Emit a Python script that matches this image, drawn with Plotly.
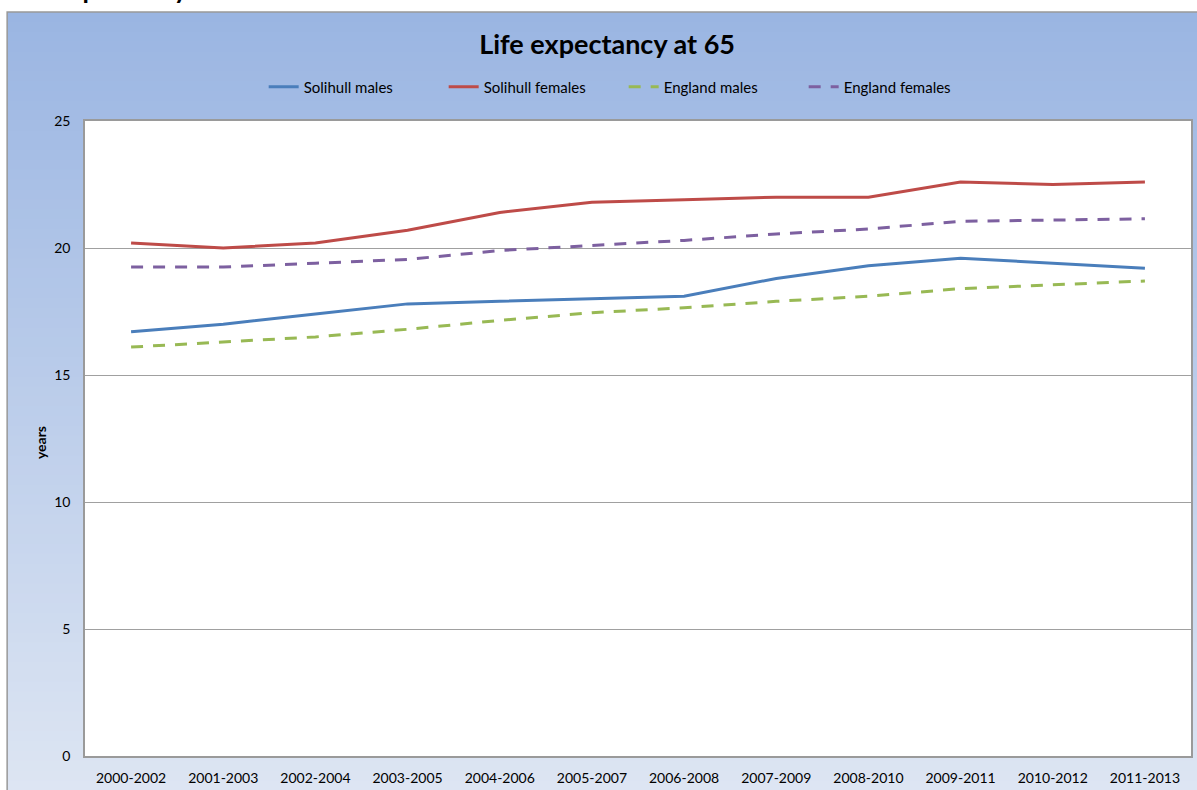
import plotly.graph_objects as go

periods = ["2000-2002", "2001-2003", "2002-2004", "2003-2005", "2004-2006", "2005-2007",
           "2006-2008", "2007-2009", "2008-2010", "2009-2011", "2010-2012", "2011-2013"]
solihull_males = [16.7, 17.0, 17.4, 17.8, 17.9, 18.0, 18.1, 18.8, 19.3, 19.6, 19.4, 19.2]
solihull_females = [20.2, 20.0, 20.2, 20.7, 21.4, 21.8, 21.9, 22.0, 22.0, 22.6, 22.5, 22.6]
england_males = [16.1, 16.3, 16.5, 16.8, 17.15, 17.45, 17.65, 17.9, 18.1, 18.4, 18.55, 18.7]
england_females = [19.25, 19.25, 19.4, 19.55, 19.9, 20.1, 20.3, 20.55, 20.75, 21.05, 21.1, 21.15]
y_ticks = [0, 5, 10, 15, 20, 25]

FONT = "Lato"
W, H = 1197, 790
ML, MR, MT, MB = 85, 4, 121, 34
PW, PH = W - ML - MR, H - MT - MB

def px_x(p):
    return (p - ML) / PW

def px_y(p):
    return (H - MB - p) / PH

fig = go.Figure()
series = [
    ("Solihull males", solihull_males, "#4A7EBB", "solid"),
    ("Solihull females", solihull_females, "#BE4B48", "solid"),
    ("England males", england_males, "#98B954", "12px,10px"),
    ("England females", england_females, "#7D60A0", "12px,10px"),
]
for name, vals, col, dash in series:
    fig.add_trace(go.Scatter(x=periods, y=vals, name=name, mode="lines",
                             line=dict(color=col, width=3, dash=dash)))

# background gradient (stripes)
shapes = []
top_c = (154, 181, 226)
bot_c = (222, 230, 243)
y_top, y_bot = px_y(12), px_y(H + 10)
n = 80
step = (y_top - y_bot) / n
for i in range(n):
    t = (i + 0.5) / n
    c = tuple(round(top_c[k] + (bot_c[k] - top_c[k]) * t) for k in range(3))
    y1 = y_top - step * i
    y0 = y1 - step * 1.6
    shapes.append(dict(type="rect", xref="paper", yref="paper", layer="below",
                       x0=px_x(7), x1=px_x(W + 10),
                       y0=max(y0, y_bot), y1=y1,
                       fillcolor="rgb(%d,%d,%d)" % c, line=dict(width=0)))
shapes.append(dict(type="rect", xref="paper", yref="paper", layer="below",
                   x0=0, x1=1, y0=0, y1=1, fillcolor="white", line=dict(width=0)))
shapes.append(dict(type="rect", xref="paper", yref="paper", layer="below",
                   x0=px_x(7), x1=px_x(W + 10), y0=px_y(H + 10), y1=px_y(12),
                   fillcolor="rgba(0,0,0,0)", line=dict(color="#999999", width=1.5)))

fig.update_layout(
    width=W, height=H,
    margin=dict(l=ML, r=MR, t=MT, b=MB),
    paper_bgcolor="white",
    plot_bgcolor="rgba(0,0,0,0)",
    font=dict(family=FONT, color="#000000"),
    shapes=shapes,
    showlegend=True,
    legend=dict(orientation="h", x=px_x(264), xanchor="left", y=px_y(87), yanchor="middle",
                bgcolor="rgba(0,0,0,0)", font=dict(size=15, family=FONT),
                itemwidth=30, tracegroupgap=0, entrywidth=135, entrywidthmode="pixels"),
    title=dict(text="<b>Life expectancy at 65</b>", x=px_x(608), xref="paper", xanchor="center",
               y=1 - 45 / H, yanchor="middle", font=dict(size=27, family=FONT, color="#000")),
    xaxis=dict(type="category", range=[-0.5, 11.5], showgrid=False,
               showline=True, linecolor="#9A9A9A", linewidth=1.5, mirror=True,
               ticks="outside", ticklen=8, tickcolor="rgba(0,0,0,0)",
               tickfont=dict(size=14, family=FONT, color="#000")),
    yaxis=dict(range=[0, 25], tickvals=y_ticks, showgrid=True, gridcolor="#A0A0A0", gridwidth=1,
               showline=True, linecolor="#9A9A9A", linewidth=1.5, mirror=True, zeroline=False,
               ticks="outside", ticklen=10, tickcolor="rgba(0,0,0,0)",
               tickfont=dict(size=14, family=FONT, color="#000")),
    annotations=[
        dict(text="<b>years</b>", textangle=-90, xref="paper", yref="paper",
             x=px_x(40), y=px_y(443), xanchor="center", yanchor="middle", showarrow=False,
             font=dict(size=14, family=FONT, color="#000")),
        dict(text="<b>Life expectancy</b>", xref="paper", yref="paper",
             x=px_x(4), y=px_y(-11), xanchor="left", yanchor="middle", showarrow=False,
             font=dict(size=26, family=FONT, color="#000")),
    ],
)

fig.write_html("out.html", config={"displayModeBar": False},
               post_script="document.body.style.margin='0px';document.body.style.overflow='hidden';")
